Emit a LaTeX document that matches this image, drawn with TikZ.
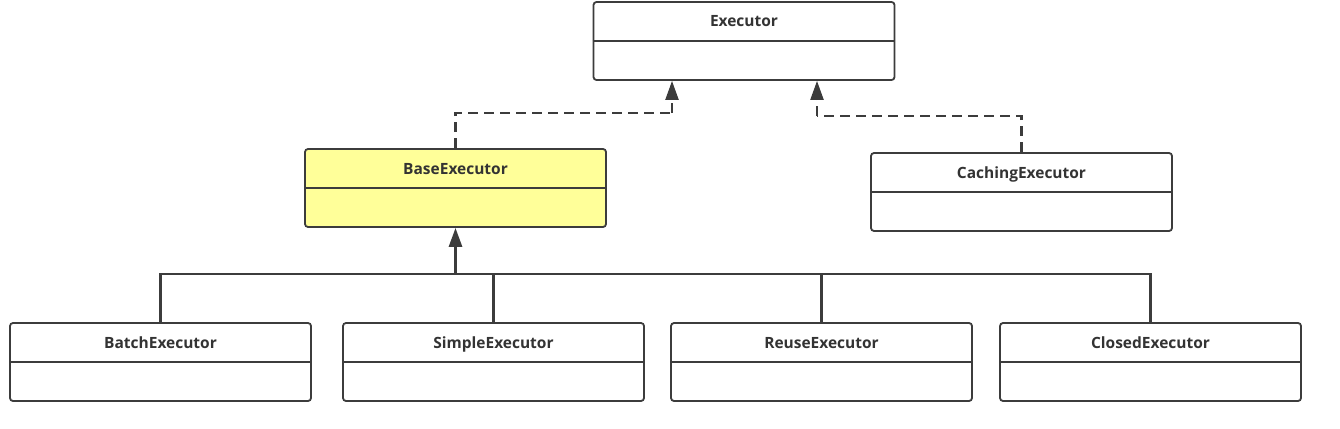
\documentclass[tikz,border=0pt]{standalone}
\usepackage{fontspec}
\setmainfont{Open Sans}
\usetikzlibrary{arrows.meta,positioning}
\definecolor{linegray}{HTML}{3C3C3C}
\definecolor{textgray}{HTML}{333333}
\definecolor{baseyellow}{HTML}{FFFF99}
\begin{document}
\begin{tikzpicture}[x=1pt, y=-1pt, >={Triangle[length=19pt, width=13pt]},
  cls/.style={draw=linegray, line width=1.8pt, rounded corners=3pt,
    minimum width=301pt, minimum height=78pt, fill=white, inner sep=0pt},
  title/.style={anchor=base, text=textgray, font=\fontsize{15.5}{18}\selectfont\bfseries},
  impl/.style={draw=linegray, line width=2.2pt, dash pattern=on 10pt off 6pt},
  inh/.style={draw=linegray, line width=2.2pt}]
  \useasboundingbox (0,0) rectangle (1340,428);
  % classes
  \node[cls] (exec)   at (744,41)  {};
  \node[cls, fill=baseyellow] (base) at (455.5,188) {};
  \node[cls] (cache)  at (1021.5,192) {};
  \node[cls] (batch)  at (160.5,362) {};
  \node[cls] (simple) at (493.5,362) {};
  \node[cls] (reuse)  at (821.5,362) {};
  \node[cls] (closed) at (1150.5,362) {};
  \foreach \c in {exec,base,cache,batch,simple,reuse,closed}
    \draw[linegray, line width=1.8pt] (\c.west) -- (\c.east);
  % names
  \node[title] (execT)   at (744,27)    {Executor};
  \node[title] (baseT)   at (455.5,174) {BaseExecutor};
  \node[title] (cacheT)  at (1021.5,178) {CachingExecutor};
  \node[title] (batchT)  at (160.5,348) {BatchExecutor};
  \node[title] (simpleT) at (493.5,348) {SimpleExecutor};
  \node[title] (reuseT)  at (821.5,348) {ReuseExecutor};
  \node[title] (closedT) at (1150.5,348) {ClosedExecutor};
  % realisations
  \coordinate (bk1) at (455.5,113);
  \coordinate (bk2) at (672,113);
  \coordinate (ck1) at (1021.5,116);
  \coordinate (ck2) at (817,116);
  \draw[impl] (base.north) -- (bk1) -- (bk2);
  \draw[impl, ->] (bk2) -- (exec.south -| bk2);
  \draw[impl] (cache.north) -- (ck1) -- (ck2);
  \draw[impl, ->] (ck2) -- (exec.south -| ck2);
  % inheritance
  \coordinate (bar) at (455.5,274);
  \draw[inh] (batch.north) |- (closed.north |- bar) -- (closed.north);
  \draw[inh] (simple.north) -- (simple.north |- bar);
  \draw[inh] (reuse.north) -- (reuse.north |- bar);
  \draw[inh, line width=2.8pt, ->] (bar) -- (base.south);
\end{tikzpicture}
\end{document}
